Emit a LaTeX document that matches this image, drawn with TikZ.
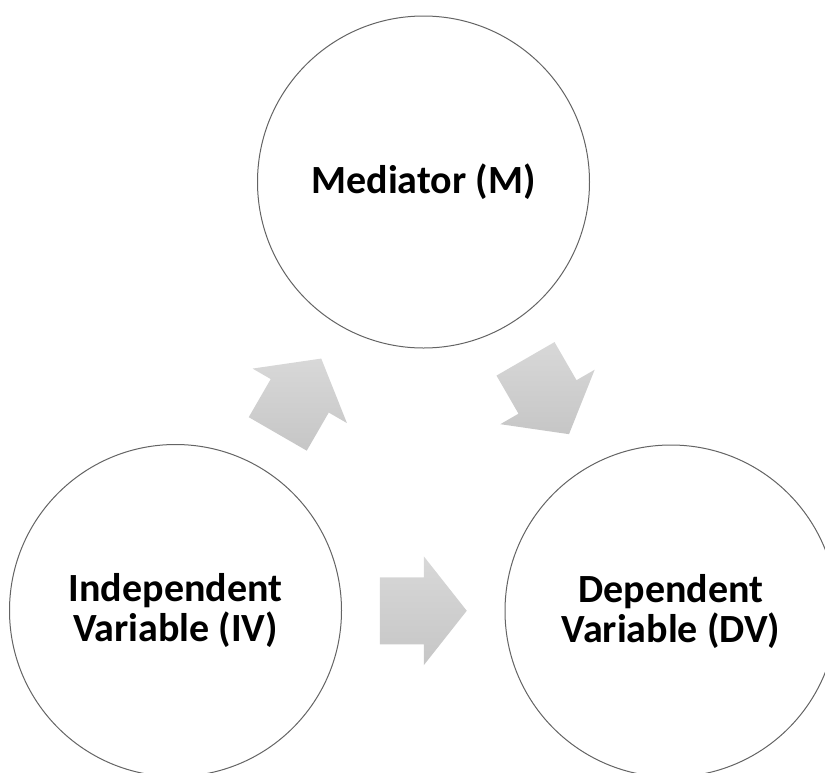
\documentclass[tikz,border=0pt]{standalone}
\usepackage{fontspec}
\setmainfont{Carlito}
\usetikzlibrary{calc}

\definecolor{ringgray}{RGB}{100,100,100}
\definecolor{arrowtop}{RGB}{216,216,216}
\definecolor{arrowbot}{RGB}{198,198,198}

\tikzset{
  varcircle/.style={circle, draw=ringgray, line width=1pt, fill=white,
    minimum size=332pt, inner sep=0pt, align=center,
    font=\fontsize{40}{40}\selectfont\bfseries},
  blockfill/.style={top color=arrowtop, bottom color=arrowbot, draw=none}
}

% block arrow centred on the current origin, pointing along +x
\newcommand{\blockarrowpath}{%
  (-43.5,-33.5) -- (0.5,-33.5) -- (0.5,-54.5) -- (43.5,0) --
  (0.5,54.5) -- (0.5,33.5) -- (-43.5,33.5) -- cycle}

\begin{document}
\begin{tikzpicture}[x=1pt,y=-1pt]
  \useasboundingbox (0,0) rectangle (825,772);
  \clip (0,0) rectangle (825,772);

  % the three variables
  \node[varcircle] (m)  at (423.5,182) {Mediator (M)};
  \node[varcircle] (iv) at (175.5,610.5) {Independent\\Variable (IV)};
  \node[varcircle] (dv) at (671,611) {Dependent\\Variable (DV)};

  % centres of the block arrows, halfway between the circles
  \coordinate (ivm)  at ($(iv)!0.5!(m)$);
  \coordinate (mdv)  at ($(m)!0.5!(dv)$);
  \coordinate (ivdv) at ($(iv)!0.5!(dv)$);

  % block arrows
  \shade[blockfill, shift={(ivm)}, rotate=60]  \blockarrowpath;
  \shade[blockfill, shift={(mdv)}, rotate=-60] \blockarrowpath;
  \shade[blockfill, shift={(ivdv)}]            \blockarrowpath;
\end{tikzpicture}
\end{document}
